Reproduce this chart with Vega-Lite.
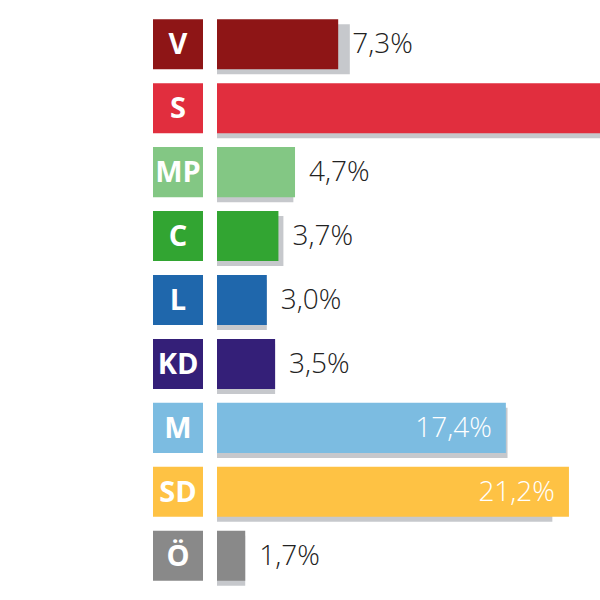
{
  "$schema": "https://vega.github.io/schema/vega-lite/v6.json",
  "padding": {"left": 153, "top": 0, "right": 0, "bottom": 0},
  "background": "white",
  "config": {"view": {"stroke": null}, "concat": {"spacing": 14}},
  "data": {"values": [
    {"party": "V", "value": 7.3, "prev": 8.0, "label": "7,3%", "inside": false, "color": "#8e1516"},
    {"party": "S", "value": 28.5, "prev": 28.3, "label": "28,5%", "inside": true, "color": "#e12e3e"},
    {"party": "MP", "value": 4.7, "prev": 4.6, "label": "4,7%", "inside": false, "color": "#83c784"},
    {"party": "C", "value": 3.7, "prev": 4.0, "label": "3,7%", "inside": false, "color": "#32a532"},
    {"party": "L", "value": 3.0, "prev": 3.0, "label": "3,0%", "inside": false, "color": "#1f67ac"},
    {"party": "KD", "value": 3.5, "prev": 3.5, "label": "3,5%", "inside": false, "color": "#341f78"},
    {"party": "M", "value": 17.4, "prev": 17.5, "label": "17,4%", "inside": true, "color": "#7cbce1"},
    {"party": "SD", "value": 21.2, "prev": 20.2, "label": "21,2%", "inside": true, "color": "#fec244"},
    {"party": "Ö", "value": 1.7, "prev": 1.7, "label": "1,7%", "inside": false, "color": "#898989"}
  ]},
  "hconcat": [
    {
      "width": 50,
      "height": 600,
      "encoding": {
        "y": {"field": "party", "type": "nominal", "sort": null, "axis": null,
              "scale": {"paddingInner": 0.217, "paddingOuter": 0.3}},
        "x": {"datum": 1, "type": "quantitative", "axis": null, "scale": {"domain": [0, 1], "nice": false}}
      },
      "layer": [
        {
          "mark": {"type": "bar"},
          "encoding": {
            "color": {"field": "color", "type": "nominal", "scale": null, "legend": null}
          }
        },
        {
          "mark": {"type": "text", "font": "Open Sans", "fontWeight": "bold", "fontSize": 29, "color": "white", "baseline": "middle", "align": "center", "dy": 1},
          "encoding": {
            "x": {"datum": 0.5, "type": "quantitative"},
            "text": {"field": "party"}
          }
        }
      ]
    },
    {
      "width": 383,
      "height": 600,
      "encoding": {
        "y": {"field": "party", "type": "nominal", "sort": null, "axis": null,
              "scale": {"paddingInner": 0.217, "paddingOuter": 0.3}},
        "x": {"type": "quantitative", "axis": null, "scale": {"domain": [0, 23.07], "nice": false}}
      },
      "layer": [
        {
          "mark": {"type": "bar", "yOffset": 5, "color": "#c6c8cc", "clip": true},
          "encoding": {"x": {"field": "prev", "type": "quantitative"}}
        },
        {
          "mark": {"type": "bar", "clip": true},
          "encoding": {
            "x": {"field": "value", "type": "quantitative"},
            "color": {"field": "color", "type": "nominal", "scale": null, "legend": null}
          }
        },
        {
          "transform": [{"filter": "!datum.inside"}],
          "mark": {"type": "text", "font": "Open Sans", "fontWeight": 300, "fontSize": 28, "color": "#222222", "align": "left", "baseline": "middle", "dx": 14, "dy": 1},
          "encoding": {"x": {"field": "value", "type": "quantitative"}, "text": {"field": "label"}}
        },
        {
          "transform": [{"filter": "datum.inside && datum.party != 'S'"}],
          "mark": {"type": "text", "font": "Open Sans", "fontWeight": 300, "fontSize": 28, "color": "white", "align": "right", "baseline": "middle", "dx": -14, "dy": 1},
          "encoding": {"x": {"field": "value", "type": "quantitative"}, "text": {"field": "label"}}
        }
      ]
    }
  ]
}
